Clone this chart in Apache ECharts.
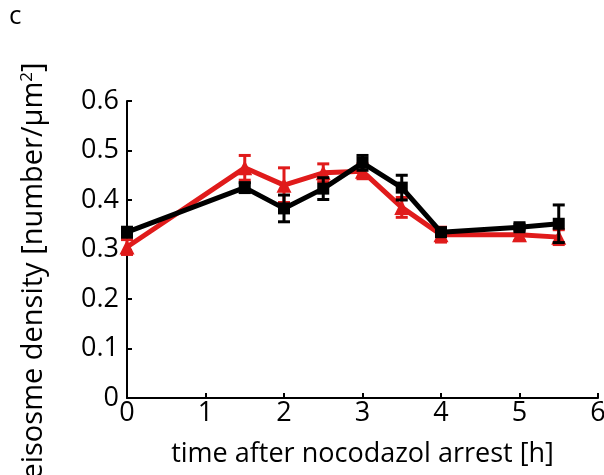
<!DOCTYPE html>
<html>
<head>
<meta charset="utf-8">
<script src="https://cdn.jsdelivr.net/npm/echarts@6/dist/echarts.min.js"></script>
<style>
html,body{margin:0;padding:0;background:#fff;}
#chart{width:604px;height:475px;}
</style>
</head>
<body>
<div id="chart"></div>
<script>
// time points after nocodazol arrest [h]
var times = [0, 1.5, 2, 2.5, 3, 3.5, 4, 5, 5.5];
// red series (triangles): mean and error
var redMean = [0.305, 0.465, 0.430, 0.455, 0.458, 0.385, 0.330, 0.330, 0.325];
var redErr  = [0.015, 0.025, 0.035, 0.018, 0.015, 0.020, 0.015, 0.012, 0.015];
// black series (squares): mean and error
var blackMean = [0.335, 0.425, 0.383, 0.423, 0.475, 0.425, 0.335, 0.345, 0.352];
var blackErr  = [0.010, 0.010, 0.027, 0.022, 0.015, 0.025, 0.008, 0.006, 0.038];
var yTicks = [0, 0.1, 0.2, 0.3, 0.4, 0.5, 0.6];

var RED = '#e01b1b';
var FONT = 'Open Sans';

function pairs(ys){ return times.map(function(t,i){ return [t, ys[i]]; }); }
function errData(ys, es){ return times.map(function(t,i){ return [t, ys[i]-es[i], ys[i]+es[i]]; }); }

function errRender(color){
  return function(params, api){
    var x = api.value(0);
    var lo = api.coord([x, api.value(1)]);
    var hi = api.coord([x, api.value(2)]);
    var hw = 6;
    var st = {stroke: color, lineWidth: 3};
    return {type:'group', children:[
      {type:'line', shape:{x1:lo[0],y1:lo[1],x2:hi[0],y2:hi[1]}, style:st},
      {type:'line', shape:{x1:lo[0]-hw,y1:lo[1],x2:lo[0]+hw,y2:lo[1]}, style:st},
      {type:'line', shape:{x1:hi[0]-hw,y1:hi[1],x2:hi[0]+hw,y2:hi[1]}, style:st}
    ]};
  };
}

var chart = echarts.init(document.getElementById('chart'), null, {renderer:'canvas'});
chart.setOption({
  animation:false,
  backgroundColor:'#fff',
  textStyle:{fontFamily:FONT},
  grid:{left:127, right:6, top:101, bottom:77, containLabel:false, outerBoundsMode:'none'},
  xAxis:{
    type:'value', min:0, max:6, interval:1,
    axisLine:{lineStyle:{color:'#000', width:2}},
    axisTick:{inside:true, length:5, lineStyle:{color:'#000', width:2}},
    axisLabel:{color:'#000', fontSize:27, fontFamily:FONT, margin:2},
    splitLine:{show:false},
    name:'time after nocodazol arrest [h]',
    nameLocation:'middle', nameGap:43,
    nameTextStyle:{color:'#000', fontSize:27, fontFamily:FONT}
  },
  yAxis:{
    type:'value', min:0, max:0.6, interval:0.1,
    axisLine:{show:true, lineStyle:{color:'#000', width:2}},
    axisTick:{show:true, inside:true, length:5, lineStyle:{color:'#000', width:2}},
    axisLabel:{color:'#000', fontSize:27, fontFamily:FONT, margin:8,
      formatter:function(v){ return yTicks.indexOf(Math.round(v*10)/10) >= 0 ? String(Math.round(v*10)/10) : ''; }},
    splitLine:{show:false}
  },
  graphic:[
    {type:'text', left:9, top:4, style:{text:'c', font:'26px "Open Sans"', fill:'#000'}},
    {type:'text', x:34, y:271, rotation:Math.PI/2, originX:0, originY:0,
      style:{
        text:'eisosme density [number/{s|μm}{u|2}]',
        fill:'#000', align:'center', verticalAlign:'middle',
        font:'29px "Open Sans"',
        rich:{
          s:{fontSize:29, fontFamily:FONT, fill:'#000'},
          u:{fontSize:17, fontFamily:FONT, fill:'#000', verticalAlign:'top', padding:[0,0,14,0]}
        }
      }
    }
  ],
  series:[
    {type:'line', data:pairs(redMean), symbol:'triangle', symbolSize:15,
      lineStyle:{color:RED, width:5}, itemStyle:{color:RED}, z:2},
    {type:'custom', data:errData(redMean, redErr), renderItem:errRender(RED), z:3,
      encode:{x:0, y:[1,2]}},
    {type:'line', data:pairs(blackMean), symbol:'rect', symbolSize:12,
      lineStyle:{color:'#000', width:5}, itemStyle:{color:'#000'}, z:4},
    {type:'custom', data:errData(blackMean, blackErr), renderItem:errRender('#000'), z:5,
      encode:{x:0, y:[1,2]}}
  ]
});
</script>
</body>
</html>
